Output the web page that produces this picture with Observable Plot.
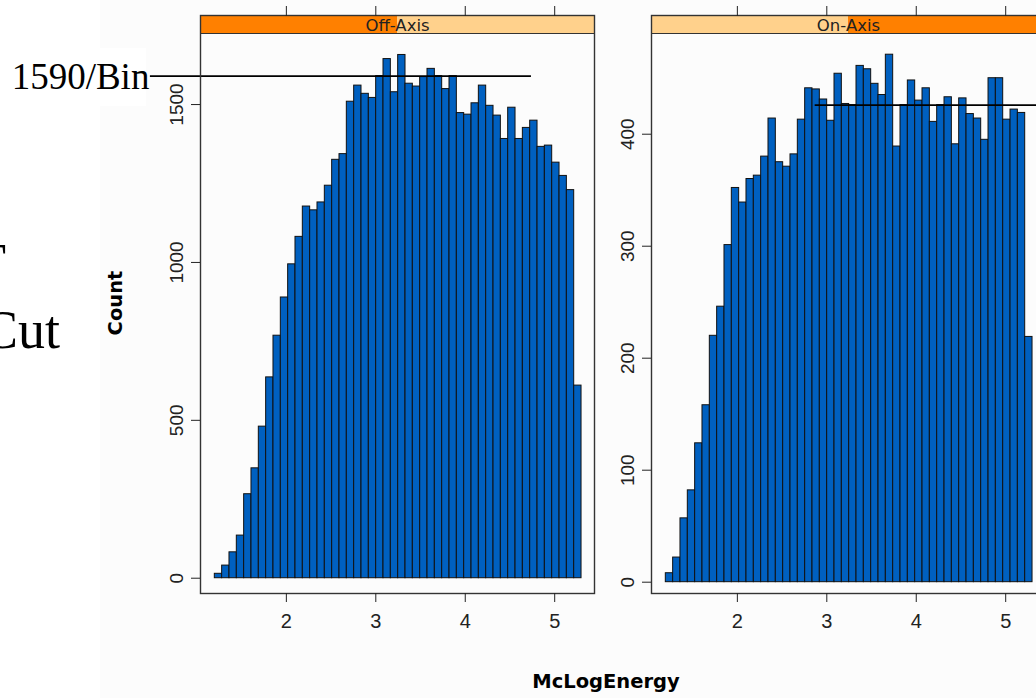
<!DOCTYPE html>
<html><head><meta charset="utf-8">
<script src="https://cdn.jsdelivr.net/npm/d3@7"></script>
<script src="https://cdn.jsdelivr.net/npm/@observablehq/plot@0.6"></script>
<style>
body{margin:0;background:#fff;}
#root{position:relative;width:1036px;height:698px;overflow:hidden;background:#fff;}
.abs{position:absolute;white-space:nowrap;line-height:1;}
.serif{font-family:"Liberation Serif","Times New Roman",serif;color:#000;}
.lab{font-family:"DejaVu Sans",sans-serif;font-weight:bold;font-size:19.5px;color:#000;}
</style></head><body><div id="root"></div>
<script>
// ---- data ----
const panelNames = ["Off-Axis", "On-Axis"];
const binRange = [1.2, 5.3];           // histogram covers this McLogEnergy span in 50 equal bins
const offAxisCounts = [14, 40, 82, 135, 266, 348, 480, 636, 768, 889, 994, 1081, 1177, 1165, 1190, 1243, 1325, 1343, 1509, 1560,
  1534, 1521, 1590, 1644, 1539, 1657, 1566, 1557, 1587, 1613, 1590, 1549, 1590, 1473, 1468, 1504, 1560, 1496, 1465, 1391,
  1490, 1391, 1426, 1449, 1366, 1370, 1316, 1274, 1229, 610];
const onAxisCounts = [8, 22, 57, 82, 124, 158, 220, 246, 301, 352, 339, 360, 363, 380, 414, 375, 371, 382, 413, 441,
  440, 431, 412, 454, 427, 426, 461, 458, 445, 435, 471, 389, 426, 448, 430, 441, 411, 426, 433, 391,
  432, 418, 414, 395, 450, 450, 413, 422, 419, 219];
const xTicks = [2, 3, 4, 5];
const offAxisYTicks = [0, 500, 1000, 1500];
const onAxisYTicks = [0, 100, 200, 300, 400];
const refLevels = [1590, 426];
const refSpans = [[0.48, 4.74], [2.87, 5.445]];
const refLabel = "1590/Bin";
const xLabel = "McLogEnergy";
const yLabel = "Count";
const sideWords = ["T", "Cut"];

// ---- styling ----
const barFill = "#0060c0";
const stripDark = "#ff8000";
const stripLight = "#ffd18c";
const tickFont = "'Liberation Sans',Arial,sans-serif";
const xDomain = [1.04, 5.445];
const H = 640, MT = 15, MB = 47, stripPx = 18;
const fmt = d => String(d);

function panel({counts, name, yDomain, yTicks, darkLeft, refLevel, refSpan, marginLeft, marginRight, width, label}) {
  const n = counts.length;
  const step = (binRange[1] - binRange[0]) / n;
  const bins = counts.map((c, i) => ({x1: binRange[0] + i * step, x2: binRange[0] + (i + 1) * step, count: c}));
  const unitsPerPx = (yDomain[1] - yDomain[0]) / (H - MT - MB);
  const sTop = yDomain[1], sBot = yDomain[1] - stripPx * unitsPerPx;
  const mid = (xDomain[0] + xDomain[1]) / 2;
  const marks = [
    Plot.rectY(bins, {x1: "x1", x2: "x2", y: "count", fill: barFill, stroke: "#111", strokeWidth: 1}),
    Plot.rect([0], {x1: xDomain[0], x2: mid, y1: sBot, y2: sTop, fill: darkLeft ? stripDark : stripLight}),
    Plot.rect([0], {x1: mid, x2: xDomain[1], y1: sBot, y2: sTop, fill: darkLeft ? stripLight : stripDark}),
    Plot.ruleY([sBot], {stroke: "#333", strokeWidth: 1.2}),
    Plot.text([name], {x: mid, y: (sTop + sBot) / 2, text: d => d, dy: 1, fontSize: 16.5, fontFamily: "DejaVu Sans", fill: "#222"}),
    Plot.ruleY([refLevel], {x1: refSpan[0], x2: refSpan[1], stroke: "#000", strokeWidth: 1.7}),
    Plot.frame({stroke: "#333", strokeWidth: 1.4}),
    Plot.axisX({anchor: "bottom", ticks: xTicks, tickFormat: fmt, tickSize: 9, tickPadding: 11, label: null, fontSize: 20, fontFamily: tickFont, fill: "#222", stroke: "#222"}),
    Plot.axisX({anchor: "top", ticks: xTicks, tickSize: 10, tickFormat: () => "", label: null, stroke: "#222"}),
    Plot.axisY({anchor: "left", ticks: yTicks, tickFormat: fmt, tickSize: 9, tickPadding: 9, tickRotate: -90, label: null, fontSize: 19, fontFamily: tickFont, fill: "#222", stroke: "#222"})
  ];
  if (label) marks.push(Plot.text([label], {x: refSpan[0], y: refLevel, text: d => d, textAnchor: "end", dx: -1, dy: 1, fontSize: 37, fontFamily: "Liberation Serif, Times New Roman, serif", fill: "#000"}));
  return Plot.plot({
    width, height: H, marginLeft, marginRight, marginTop: MT, marginBottom: MB,
    x: {domain: xDomain}, y: {domain: yDomain},
    style: {background: "transparent", overflow: "visible"},
    marks
  });
}

const root = document.getElementById("root");
function addDiv(cls, text, css) {
  const d = document.createElement("div");
  d.className = "abs " + cls; d.textContent = text; Object.assign(d.style, css); root.appendChild(d); return d;
}
addDiv("", "", {left: "100px", top: "0px", width: "936px", height: "698px", background: "#fcfcfc"});
addDiv("", "", {left: "0px", top: "48px", width: "146px", height: "58px", background: "#fff"});

const left = panel({counts: offAxisCounts, name: panelNames[0], yDomain: [-48.4, 1782], yTicks: offAxisYTicks,
  darkLeft: true, refLevel: refLevels[0], refSpan: refSpans[0], marginLeft: 200, marginRight: 16, width: 610, label: refLabel});
Object.assign(left.style, {position: "absolute", left: "0px", top: "0px"});
root.appendChild(left);

const right = panel({counts: onAxisCounts, name: panelNames[1], yDomain: [-10.1, 506], yTicks: onAxisYTicks,
  darkLeft: false, refLevel: refLevels[1], refSpan: refSpans[1], marginLeft: 41, marginRight: 15, width: 450});
Object.assign(right.style, {position: "absolute", left: "610px", top: "0px"});
root.appendChild(right);

addDiv("serif", sideWords[0], {right: "1030px", top: "236px", fontSize: "54px"});
addDiv("serif", sideWords[1], {left: "-18px", top: "303px", fontSize: "54px"});
addDiv("lab", yLabel, {left: "116px", top: "303px", transform: "translate(-50%,-50%) rotate(-90deg)"});
addDiv("lab", xLabel, {left: "606px", top: "672px", transform: "translateX(-50%)"});
</script></body></html>
